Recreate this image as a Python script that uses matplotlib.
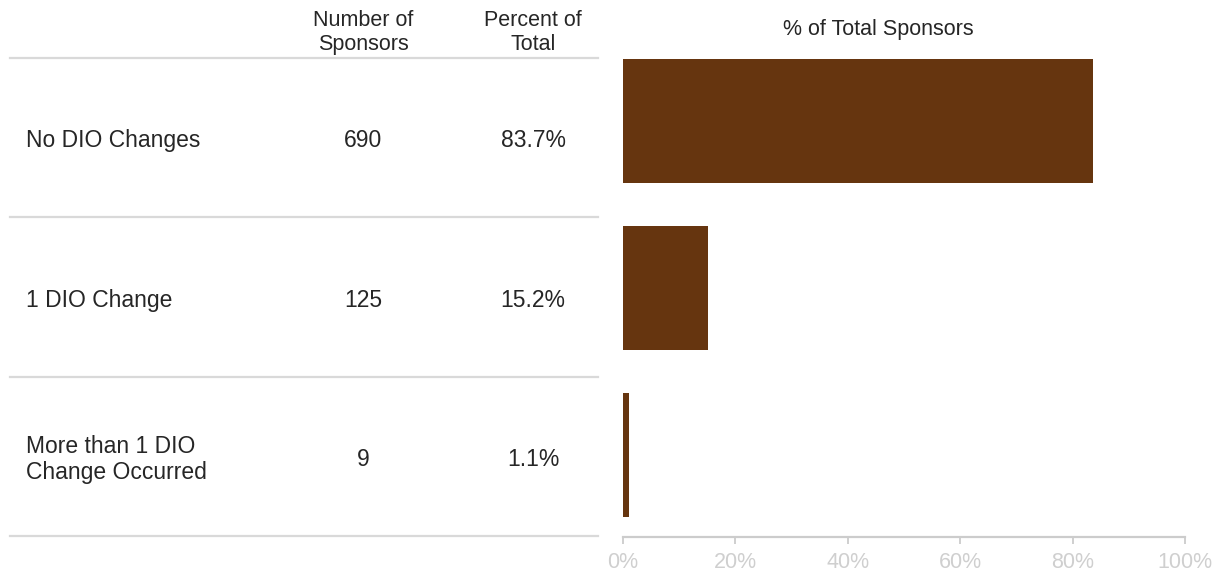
import matplotlib.pyplot as plt
from matplotlib.ticker import PercentFormatter

plt.rcParams['font.family'] = ['Liberation Sans', 'DejaVu Sans']

categories = ['No DIO Changes', '1 DIO Change', 'More than 1 DIO\nChange Occurred']
sponsors = [690, 125, 9]
pct_total = [83.7, 15.2, 1.1]
col_headers = ['Number of\nSponsors', 'Percent of\nTotal']
x_ticks = [0, 20, 40, 60, 80, 100]

bar_color = '#66350f'
line_color = '#d9d9d9'
text_color = '#262626'

W, H = 1220, 573
fig = plt.figure(figsize=(W / 100, H / 100), dpi=100)

# left table
tab = fig.add_axes([10 / W, 1 - 536 / H, (598 - 10) / W, (536 - 58) / H])
tab.set_xlim(0, 1)
tab.set_ylim(len(categories), 0)
tab.axis('off')
for i in range(len(categories) + 1):
    tab.axhline(i, color=line_color, lw=1.6, clip_on=False)
col_x = [(363 - 10) / 588, (533 - 10) / 588]
for j, hdr in enumerate(col_headers):
    tab.text(col_x[j], -0.16, hdr, ha='center', va='center', fontsize=15.5,
             color=text_color, linespacing=1.15)
for i, cat in enumerate(categories):
    yc = i + 0.52
    tab.text(16 / 588, yc, cat, ha='left', va='center', fontsize=16.5,
             color=text_color, linespacing=1.2)
    tab.text(col_x[0], yc, str(sponsors[i]), ha='center', va='center',
             fontsize=16.5, color=text_color)
    tab.text(col_x[1], yc, f'{pct_total[i]:.1f}%', ha='center', va='center',
             fontsize=16.5, color=text_color)

# right bar chart
ax = fig.add_axes([623 / W, 1 - 537 / H, (1185 - 623) / W, (537 - 59) / H])
ypos = list(range(len(categories)))
ax.barh(ypos, pct_total, height=0.743, color=bar_color)
ax.set_xlim(0, 100)
ax.set_ylim(2.49, -0.37)
ax.set_yticks([])
ax.set_xticks(x_ticks)
ax.xaxis.set_major_formatter(PercentFormatter(decimals=0))
for s in ['top', 'right', 'left']:
    ax.spines[s].set_visible(False)
ax.spines['bottom'].set_color('#cccccc')
ax.spines['bottom'].set_linewidth(1.6)
ax.tick_params(axis='x', colors='#cccccc', labelcolor='#cfcfcf', labelsize=15.5,
               length=5, width=1.3, direction='out', pad=6)
ax.text(0.454, 1.0 + 30 / 478, '% of Total Sponsors', transform=ax.transAxes,
        ha='center', va='center', fontsize=15.5, color=text_color)

fig.savefig('out.png', dpi=100)
